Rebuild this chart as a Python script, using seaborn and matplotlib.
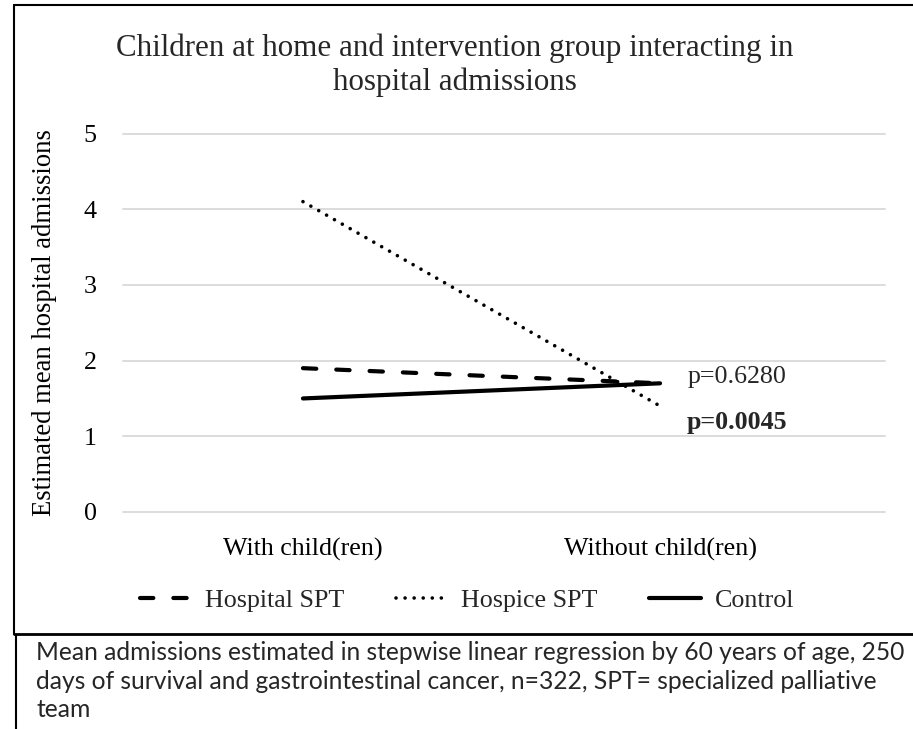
import numpy as np
import pandas as pd
import matplotlib
matplotlib.use("Agg")
import matplotlib.pyplot as plt
import seaborn as sns
from matplotlib.lines import Line2D

# ------------------------------------------------------------
# data
# ------------------------------------------------------------
categories = ["With child(ren)", "Without child(ren)"]
groups = ["Hospital SPT", "Hospice SPT", "Control"]
hospital_spt = [1.9, 1.7]
hospice_spt = [4.1, 1.4]
control = [1.5, 1.7]
p_labels = ["p=0.6280", "p=0.0045"]
p_label_y = [1.78, 1.18]
y_ticks = [0, 1, 2, 3, 4, 5]

title = "Children at home and intervention group interacting in\nhospital admissions"
ylabel = "Estimated mean hospital admissions"
caption = ("Mean admissions estimated in stepwise linear regression by 60 years of age, 250\n"
           "days of survival and gastrointestinal cancer, n=322, SPT= specialized palliative\n"
           "team")

df = pd.DataFrame({
    "children": categories * len(groups),
    "group": np.repeat(groups, len(categories)),
    "admissions": hospital_spt + hospice_spt + control,
})

# line look per group (Excel-like dashes)
line_styles = {
    "Hospital SPT": dict(linestyle=(0, (3.2, 4.8)), linewidth=3.0),
    "Hospice SPT": dict(linestyle=(0, (0.01, 2.5)), linewidth=2.6),
    "Control": dict(linestyle="-", linewidth=3.0),
}

sns.set_theme(style="white")
plt.rcParams["font.family"] = ["Liberation Serif", "DejaVu Serif"]

W, H = 913, 729
fig = plt.figure(figsize=(W / 100, H / 100), dpi=100)
ax = fig.add_axes([123 / W, 1 - 512 / H, 762 / W, (512 - 133.5) / H])

for g in groups:
    sub = df[df["group"] == g]
    sns.lineplot(data=sub, x="children", y="admissions", ax=ax, color="black",
                 label=g, dash_capstyle="round", solid_capstyle="round",
                 **line_styles[g])

ax.set_ylim(0, 5)
ax.set_xlim(-0.504, 1.63)
ax.set_yticks(y_ticks)
ax.yaxis.grid(True, color="#d9d9d9", linewidth=1.3)
ax.xaxis.grid(False)
for gl in ax.yaxis.get_gridlines():
    gl.set_clip_on(False)
for s in ax.spines.values():
    s.set_visible(False)
ax.tick_params(axis="both", length=0, labelsize=18.7, pad=19, colors="black")
ax.set_xlabel("")
ax.set_ylabel(ylabel, fontsize=19.2, color="black")
ax.yaxis.set_label_coords((57 - 123) / 762, 0.5)

# p-value labels
ax.text(1.076, p_label_y[0], p_labels[0], fontsize=18.7, va="center", ha="left")
ax.text(1.076, p_label_y[1], p_labels[1], fontsize=18.7, va="center", ha="left",
        fontweight="bold")

# legend under the chart
handles, labels = ax.get_legend_handles_labels()
ax.legend_.remove()
fig.legend(handles, labels, loc="center", bbox_to_anchor=(467 / W, 1 - 600 / H),
           ncol=3, frameon=False, fontsize=18.7, handlelength=2.0,
           handletextpad=0.5, columnspacing=2.0)

# title
fig.text(455 / W, 1 - 65 / H, title, ha="center", va="center", fontsize=22.3,
         linespacing=1.22)

# chart frame and caption box edges
def frame_line(x, y, lw=1.5):
    fig.add_artist(Line2D([v / W for v in x], [1 - v / H for v in y],
                          color="black", linewidth=lw))

frame_line([14, W], [5, 5])
frame_line([14, 14], [5, 634])
frame_line([14, W], [634, 634], lw=2)
frame_line([16, 16], [635, H])

fig.text(36 / W, 1 - 641 / H, caption, ha="left", va="top",
         family=["Lato", "DejaVu Sans"], fontsize=17.7, linespacing=1.29)

fig.savefig("out.png", dpi=100)
